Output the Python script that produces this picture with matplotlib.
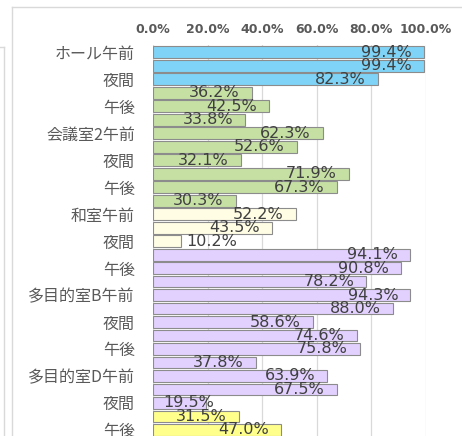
import numpy as np
import matplotlib
matplotlib.use("Agg")
from matplotlib import pyplot as plt
from matplotlib.lines import Line2D

plt.rcParams['font.family'] = ['Noto Sans CJK JP', 'DejaVu Sans']

# rooms, in order from the top of the chart down
rooms = ['ホール', '会議室1', '会議室2', '会議室3', '和室',
         '多目的室A', '多目的室B', '多目的室C', '多目的室D', 'その他']
slots = ['午前', '午後', '夜間']

# usage rate (%) per room and time slot
values = [99.4, 99.4, 82.3,
          36.2, 42.5, 33.8,
          62.3, 52.6, 32.1,
          71.9, 67.3, 30.3,
          52.2, 43.5, 10.2,
          94.1, 90.8, 78.2,
          94.3, 88.0, 58.6,
          74.6, 75.8, 37.8,
          63.9, 67.5, 19.5,
          31.5, 47.0]

room_colors = ['#7fd3f6', '#c6e0a4', '#c6e0a4', '#c6e0a4', '#fffde4',
               '#e2d0ff', '#e2d0ff', '#e2d0ff', '#e2d0ff', '#ffff8c']

xticks = [0, 20, 40, 60, 80, 100]

labels = [(rooms[i // 3] + slots[0]) if i % 3 == 0 else slots[i % 3] for i in range(len(values))]
colors = [room_colors[i // 3] for i in range(len(values))]

fig = plt.figure(figsize=(4.62, 4.36), dpi=100)
ax = fig.add_axes([153 / 462, 0, 273 / 462, (436 - 45.5) / 436])

y = np.arange(len(values))
ax.barh(y, values, height=0.88, color=colors, edgecolor='#8c8c8c', linewidth=0.8, zorder=3)

ax.set_xlim(0, 100)
ax.set_ylim(28.45, -0.5)

ax.xaxis.tick_top()
ax.set_xticks(xticks)
ax.set_xticklabels(['{:.1f}%'.format(t) for t in xticks], family='DejaVu Sans',
                   fontsize=9, fontweight='bold', color='#595959')
ax.tick_params(axis='x', length=0, pad=7)
ax.grid(axis='x', color='#d9d9d9', linewidth=0.9, zorder=0)

# excel only shows every other category label
ax.set_yticks(y[::2])
ax.set_yticklabels(labels[::2], fontsize=11.5, color='#595959')
ax.tick_params(axis='y', length=0, pad=13)

for s in ax.spines.values():
    s.set_visible(False)

for yi, v in zip(y, values):
    txt = '{:.1f}%'.format(v)
    if v < 15:
        ax.text(v + 2, yi, txt, ha='left', va='center', fontsize=11.5,
                family='DejaVu Sans', color='#404040', zorder=4)
    else:
        ax.text(max(v - 4.5, 22.5), yi, txt, ha='right', va='center', fontsize=11.5,
                family='DejaVu Sans', color='#404040', zorder=4)

# chart frame lines (cropped screenshot)
fig.add_artist(Line2D([12 / 462, 12 / 462], [0, 1 - 7 / 436], color='#d9d9d9', lw=1))
fig.add_artist(Line2D([12 / 462, 1], [1 - 7 / 436, 1 - 7 / 436], color='#d9d9d9', lw=1))
fig.add_artist(Line2D([0, 4 / 462], [1 - 47 / 436, 1 - 47 / 436], color='#d9d9d9', lw=1))
fig.add_artist(Line2D([4 / 462, 4 / 462], [0, 1 - 47 / 436], color='#d9d9d9', lw=1))

fig.savefig('out.png', dpi=100, facecolor='#ffffff')
